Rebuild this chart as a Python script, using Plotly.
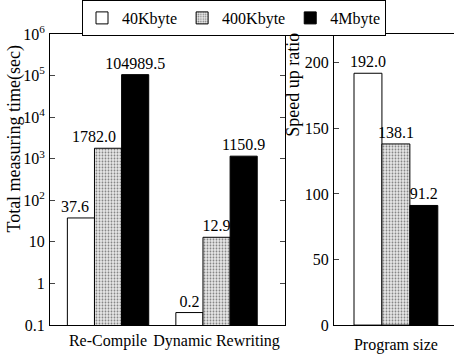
import plotly.graph_objects as go

# ---- data ----
time_categories = ["Re-Compile", "Dynamic Rewriting"]
ratio_categories = ["Program size"]
series_names = ["40Kbyte", "400Kbyte", "4Mbyte"]
time_40k = [37.6, 0.2]
time_400k = [1782.0, 12.9]
time_4m = [104989.5, 1150.9]
ratio_values = [192.0, 138.1, 91.2]  # 40Kbyte, 400Kbyte, 4Mbyte
log_tick_vals = [0.1, 1, 10, 100, 1000, 10000, 100000, 1000000]
log_tick_text = ["0.1", "1", "10", "10<sup>2</sup>", "10<sup>3</sup>",
                 "10<sup>4</sup>", "10<sup>5</sup>", "10<sup>6</sup>"]
ratio_tick_vals = [0, 50, 100, 150, 200]

FONT = "Liberation Serif"
W, H = 454, 354

def px_x(p):
    return p / W

def px_y(p):
    return 1 - p / H

styles = [
    dict(color="white", line=dict(color="black", width=1)),
    dict(color="#e6e6e6", line=dict(color="black", width=1),
         pattern=dict(shape=".", size=3, solidity=0.3, fgcolor="#808080", bgcolor="#e8e8e8", fillmode="replace")),
    dict(color="black", line=dict(color="black", width=1)),
]

# label padding (non-breaking spaces appended) so a label sits left of a taller neighbour
label_pad = {("400Kbyte", "Re-Compile"): 7, ("40Kbyte", "Re-Compile"): 3}

def fmt(v, name, cat):
    return f"{v:.1f}" + "&#160;" * label_pad.get((name, cat), 0)

fig = go.Figure()
time_series = [time_40k, time_400k, time_4m]
for i, (name, vals) in enumerate(zip(series_names, time_series)):
    fig.add_trace(go.Bar(
        x=time_categories, y=vals, name=name, marker=styles[i],
        text=[fmt(v, name, c) for v, c in zip(vals, time_categories)],
        textposition="outside", cliponaxis=False, constraintext="none",
        textfont=dict(family=FONT, size=16, color="black"),
        xaxis="x", yaxis="y", legendgroup=name, showlegend=True,
    ))
for i, name in enumerate(series_names):
    fig.add_trace(go.Bar(
        x=ratio_categories, y=[ratio_values[i]], name=name, marker=styles[i],
        text=[fmt(ratio_values[i], name, ratio_categories[0])],
        textposition="outside", cliponaxis=False, constraintext="none",
        textfont=dict(family=FONT, size=16, color="black"),
        xaxis="x2", yaxis="y2", legendgroup=name, showlegend=False,
    ))

ydom = [px_y(325), px_y(33)]
axis_common = dict(showline=True, linecolor="black", linewidth=1, showgrid=False,
                   zeroline=False, automargin=False,
                   tickfont=dict(family=FONT, size=16, color="black"))

fig.update_layout(
    width=W, height=H,
    margin=dict(l=0, r=0, t=0, b=0),
    paper_bgcolor="white", plot_bgcolor="white",
    font=dict(family=FONT, size=16, color="black"),
    barmode="group", bargap=0.25, bargroupgap=0,
    xaxis=dict(domain=[px_x(50), px_x(285)], anchor="y", mirror=True, ticks="",
               range=[-0.535, 1.631], ticklabelstandoff=1, **axis_common),
    yaxis=dict(domain=ydom, anchor="x", type="log", range=[-1, 6], mirror="ticks",
               ticks="inside", ticklen=5, tickvals=log_tick_vals, ticktext=log_tick_text,
               ticklabelstandoff=1, **axis_common),
    xaxis2=dict(domain=[px_x(334), 1.0], anchor="y2", mirror=True, ticks="",
                range=[-0.554, 0.52], ticklabelstandoff=5, **axis_common),
    yaxis2=dict(domain=ydom, anchor="x2", range=[0, 222], mirror=False,
                ticks="inside", ticklen=5, tickvals=ratio_tick_vals,
                ticklabelstandoff=1, **axis_common),
    legend=dict(orientation="h", x=px_x(82), y=px_y(17), xanchor="left", yanchor="middle",
                bgcolor="white", bordercolor="black", borderwidth=1,
                font=dict(family=FONT, size=16, color="black"),
                itemwidth=30, tracegroupgap=0),
    annotations=[
        dict(text="Total measuring time(sec)", textangle=-90, showarrow=False,
             xref="paper", yref="paper", x=px_x(15), y=px_y(138),
             xanchor="center", yanchor="middle", font=dict(family=FONT, size=18, color="black")),
        dict(text="Speed up ratio", textangle=-90, showarrow=False,
             xref="paper", yref="paper", x=px_x(293), y=px_y(84),
             xanchor="center", yanchor="middle", font=dict(family=FONT, size=18, color="black")),
    ],
)

fig.write_html("out.html", post_script="document.body.style.margin='0px';",
               config={"displayModeBar": False})
